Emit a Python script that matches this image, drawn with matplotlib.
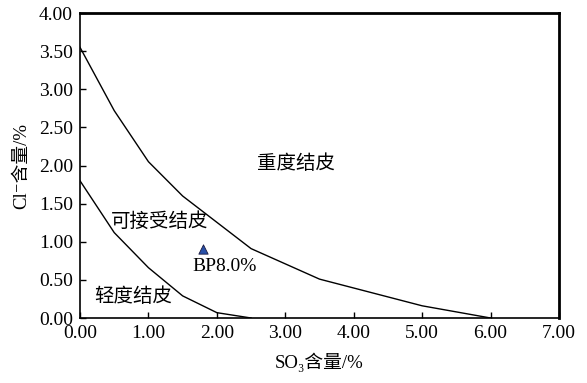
import numpy as np
import matplotlib.pyplot as plt

plt.rcParams['font.family'] = ['Liberation Serif', 'Noto Sans CJK SC', 'DejaVu Serif']

# 边界曲线数据
so3_upper = [0.0, 0.5, 1.0, 1.5, 2.5, 3.5, 5.0, 6.0]
cl_upper = [3.55, 2.72, 2.05, 1.60, 0.91, 0.51, 0.16, 0.0]

so3_lower = [0.0, 0.5, 1.0, 1.5, 2.0, 2.5]
cl_lower = [1.80, 1.12, 0.66, 0.29, 0.07, 0.0]

# 样品点
point_name = "BP8.0%"
point_so3 = 1.80
point_cl = 0.90

fig = plt.figure(figsize=(5.87, 3.83), dpi=100)
ax = fig.add_axes([0.1363, 0.1697, 0.816, 0.7963])

ax.plot(so3_upper, cl_upper, color="black", linewidth=1.0)
ax.plot(so3_lower, cl_lower, color="black", linewidth=1.0)
ax.scatter([point_so3], [point_cl], marker="^", s=45, color="#2850a8",
           edgecolors="#1a1a40", linewidths=0.6, zorder=3)

ax.text(3.15, 2.03, "重度结皮", fontsize=14, ha="center", va="center")
ax.text(1.17, 1.26, "可接受结皮", fontsize=14, ha="center", va="center")
ax.text(2.12, 0.67, point_name, fontsize=14, ha="center", va="center")
ax.text(0.78, 0.28, "轻度结皮", fontsize=14, ha="center", va="center")

ax.set_xlim(0, 7)
ax.set_ylim(0, 4)
ax.set_xticks(np.arange(0, 7.01, 1.0))
ax.set_yticks(np.arange(0, 4.01, 0.5))
ax.xaxis.set_major_formatter(plt.FormatStrFormatter("%.2f"))
ax.yaxis.set_major_formatter(plt.FormatStrFormatter("%.2f"))
ax.tick_params(direction="in", length=4, width=1, labelsize=14, pad=5)

ax.spines["left"].set_linewidth(1.2)
ax.spines["bottom"].set_linewidth(1.2)
ax.spines["top"].set_linewidth(2.0)
ax.spines["right"].set_linewidth(2.0)

ax.set_xlabel("SO₃含量/%", fontsize=13.5, labelpad=8)
ax.set_ylabel("Cl⁻含量/%", fontsize=13.5, labelpad=6)

fig.savefig("out.png", dpi=100)
